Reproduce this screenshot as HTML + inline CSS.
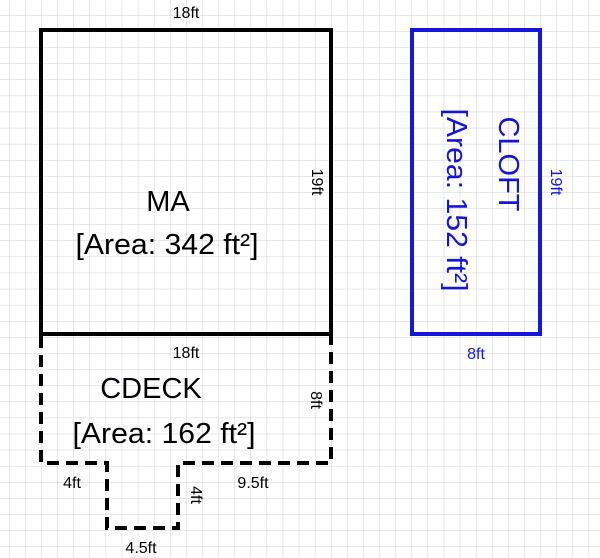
<!DOCTYPE html>
<html><head><style>
html,body{margin:0;padding:0;background:#fff}
svg{display:block}
text{font-family:"Liberation Sans",Arial,sans-serif}
</style></head><body>
<svg width="600" height="558" viewBox="0 0 600 558" xmlns="http://www.w3.org/2000/svg">
<defs>
<pattern id="g" x="9" y="-1" width="16.1" height="16.1" patternUnits="userSpaceOnUse">
<path d="M0 0H16.1M0 0V16.1" stroke="#cfcfe0" stroke-width="1" fill="none"/>
</pattern>
</defs>
<rect width="600" height="558" fill="url(#g)"/>
<rect x="41" y="30" width="290" height="304" fill="none" stroke="#000" stroke-width="4"/>
<path d="M41 336V463H107V528H178V463H331V336" fill="none" stroke="#000" stroke-width="4" stroke-dasharray="12,7"/>
<rect x="412" y="30" width="128" height="304" fill="none" stroke="#1515dd" stroke-width="4"/>
<g font-size="16" fill="#000" text-anchor="middle">
<text x="186" y="18">18ft</text>
<text x="186" y="358">18ft</text>
<text x="72" y="488">4ft</text>
<text x="253" y="488">9.5ft</text>
<text x="141" y="553">4.5ft</text>
<text transform="translate(312,182) rotate(90)">19ft</text>
<text transform="translate(311,400) rotate(90)">8ft</text>
<text transform="translate(191,495) rotate(90)">4ft</text>
<text transform="translate(551,182) rotate(90)" fill="#1515dd">19ft</text>
<text x="476" y="359" fill="#1515dd">8ft</text>
</g>
<g font-size="29" fill="#000" text-anchor="middle" textLength="183">
<text x="168" y="211">MA</text>
<text x="167" y="254" textLength="183" lengthAdjust="spacingAndGlyphs">[Area: 342 ft²]</text>
<text x="151" y="398">CDECK</text>
<text x="164" y="443" textLength="183" lengthAdjust="spacingAndGlyphs">[Area: 162 ft²]</text>
</g>
<g font-size="29" fill="#1515dd" text-anchor="middle">
<text transform="translate(499,164) rotate(90)">CLOFT</text>
<text transform="translate(447,200) rotate(90)" textLength="183" lengthAdjust="spacingAndGlyphs">[Area: 152 ft²]</text>
</g>
</svg>
</body></html>
